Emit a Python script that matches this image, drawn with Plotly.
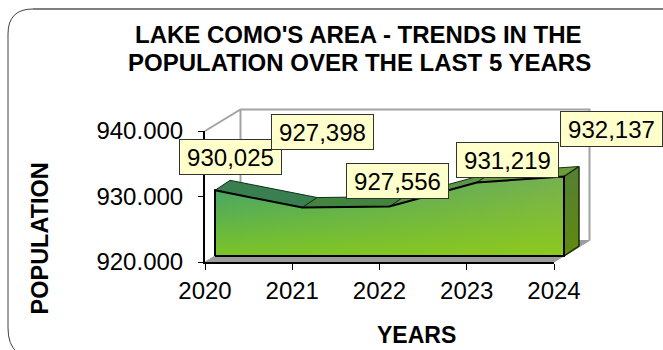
import plotly.graph_objects as go

# ---- data ----
years = [2020, 2021, 2022, 2023, 2024]
population = [930025, 927398, 927556, 931219, 932137]
point_labels = ["930,025", "927,398", "927,556", "931,219", "932,137"]
y_ticks = [920000, 930000, 940000]
y_tick_labels = ["920.000", "930.000", "940.000"]
title_lines = ["LAKE COMO'S AREA - TRENDS IN THE", "POPULATION OVER THE LAST 5 YEARS"]

# ---- layout geometry / styling ----
W, H = 663, 350
LEFT, RIGHT, BOTTOM, TOP = 205, 554, 262, 131
D_LEFT, D_RIGHT, D_BOTTOM, D_TOP = 200, 600, 267, 100   # drawing subplot, same scales
YEAR_PX = (RIGHT - LEFT) / (years[-1] - years[0])
VAL_PX = (BOTTOM - TOP) / (y_ticks[-1] - y_ticks[0])
FONT = "Liberation Sans, Arial, sans-serif"

def dx(px):
    return px / YEAR_PX

def dy(px):
    return px / VAL_PX

fx, fy = dx(10), dy(6)        # front face offset from the axes
sx, sy = dx(15), dy(10)       # ribbon depth
wx, wy = dx(35.5), dy(21.5)   # wall depth
x0, x1 = years[0], years[-1]
y0, y1 = y_ticks[0], y_ticks[-1]

front_x = [x + fx for x in years]
front_y = [v + fy for v in population]
top_face_colors = ["#397f50", "#43843f", "#5c9445", "#6d9c3c"]
GREY = "#a3a3a3"

fig = go.Figure()

def poly(xs, ys, **kw):
    fig.add_trace(go.Scatter(x=xs, y=ys, mode="lines", hoverinfo="skip",
                             showlegend=False, xaxis="x", yaxis="y", **kw))

# floor
poly([x0, x1, x1 + wx, x0 + wx, x0], [y0, y0, y0 + wy, y0 + wy, y0],
     fill="toself", fillcolor="#9c9c9c", line=dict(color="#9c9c9c", width=1))
# walls
poly([x0, x0 + wx, x1 + wx, x1 + wx], [y1, y1 + wy, y1 + wy, y0 + wy],
     line=dict(color=GREY, width=2))
poly([x0 + wx, x0 + wx], [y1 + wy, y0 + wy], line=dict(color=GREY, width=2))

# top faces of the ribbon
for i in range(len(years) - 1):
    poly([front_x[i], front_x[i + 1], front_x[i + 1] + sx, front_x[i] + sx, front_x[i]],
         [front_y[i], front_y[i + 1], front_y[i + 1] + sy, front_y[i] + sy, front_y[i]],
         fill="toself", fillcolor=top_face_colors[i],
         line=dict(color="#123018", width=1))

# right side face
poly([front_x[-1], front_x[-1] + sx, front_x[-1] + sx, front_x[-1], front_x[-1]],
     [front_y[-1], front_y[-1] + sy, y0 + fy + sy, y0 + fy, front_y[-1]],
     fill="toself",
     fillgradient=dict(type="vertical",
                       colorscale=[[0, "#5f8a0c"], [1, "#557f35"]]),
     line=dict(color="#1a2a08", width=1.5))

# front face: horizontal base gradient plus vertical overlay
area_x = [front_x[0]] + front_x + [front_x[-1], front_x[0]]
area_y = [y0 + fy] + front_y + [y0 + fy, y0 + fy]
poly(area_x, area_y, fill="toself",
     fillgradient=dict(type="horizontal",
                       colorscale=[[0, "#3fa070"], [1, "#76b050"]]),
     line=dict(color="rgba(0,0,0,0)", width=0))
poly(area_x, area_y, fill="toself",
     fillgradient=dict(type="vertical",
                       colorscale=[[0, "rgba(155,215,0,0.65)"], [1, "rgba(155,215,0,0)"]]),
     line=dict(color="#000000", width=2))

# carrier trace for the visible axes
fig.add_trace(go.Scatter(x=years, y=population, mode="markers", marker=dict(opacity=0),
                         hoverinfo="skip", showlegend=False, xaxis="x2", yaxis="y2"))

# point labels: offsets in pixels from the front-face point
label_shifts = [(15, 33), (20, 76), (8, 26), (31, 23), (47, 48)]
annotations = []
for x, v, t, (ax, ay) in zip(years, population, point_labels, label_shifts):
    annotations.append(dict(
        x=x, y=v, xref="x2", yref="y2", text=t, showarrow=False,
        xshift=10 + ax, yshift=6 + ay,
        font=dict(family=FONT, size=24, color="#000000"),
        bgcolor="#ffffcc", bordercolor="#333333", borderwidth=1, borderpad=3,
        width=95, height=28,
    ))

def text_at(text, px, py, size, angle=0, **kw):
    annotations.append(dict(
        text="<b>" + text + "</b>", x=px / W, y=1 - py / H, xref="paper", yref="paper",
        xanchor="center", yanchor="middle", showarrow=False, textangle=angle,
        font=dict(family=FONT, size=size, color="#000000"), **kw))

text_at("YEARS", 416, 335, 23)
text_at("POPULATION", 40, 238.5, 23.5, angle=-90)
text_at(title_lines[0], 358.5, 35, 24)
text_at(title_lines[1], 359, 63, 24)

def P(x, y):
    return f"{x / W:.5f} {1 - y / H:.5f}"

frame_top = f"M {P(33, 9)} L {P(663, 9)}"
frame_left = f"M {P(33, 9)} Q {P(8, 9)} {P(8, 34)} L {P(8, 328)} Q {P(8, 345)} {P(17, 352)}"

fig.update_layout(
    width=W, height=H,
    margin=dict(l=0, r=0, t=0, b=0, pad=0, autoexpand=False),
    paper_bgcolor="#ffffff", plot_bgcolor="rgba(0,0,0,0)",
    showlegend=False,
    font=dict(family=FONT, color="#000000"),
    annotations=annotations,
    shapes=[
        dict(type="path", path=frame_top, xref="paper", yref="paper",
             line=dict(color="#808080", width=2.2), layer="below"),
        dict(type="path", path=frame_left, xref="paper", yref="paper",
             line=dict(color="#404040", width=1), layer="below"),
    ],
    # drawing subplot: same pixel scale as the visible axes, larger extent
    xaxis=dict(domain=[D_LEFT / W, D_RIGHT / W],
               range=[x0 - dx(LEFT - D_LEFT), x1 + dx(D_RIGHT - RIGHT)],
               visible=False, anchor="y", automargin=False),
    yaxis=dict(domain=[1 - D_BOTTOM / H, 1 - D_TOP / H],
               range=[y0 - dy(D_BOTTOM - BOTTOM), y1 + dy(TOP - D_TOP)],
               visible=False, anchor="x", automargin=False),
    # visible axes
    xaxis2=dict(domain=[LEFT / W, RIGHT / W], range=[x0, x1], anchor="y2", automargin=False,
                tickmode="array", tickvals=years, ticktext=[str(y) for y in years],
                showgrid=False, zeroline=False, showline=True, linecolor="#000000", linewidth=2,
                ticks="outside", ticklen=6, tickwidth=1, tickcolor="#000000",
                ticklabelstandoff=0, tickfont=dict(family=FONT, size=24, color="#000000")),
    yaxis2=dict(domain=[1 - BOTTOM / H, 1 - TOP / H], range=[y0, y1], anchor="x2", automargin=False,
                tickmode="array", tickvals=y_ticks, ticktext=y_tick_labels,
                showgrid=False, zeroline=False, showline=True, linecolor="#000000", linewidth=2,
                ticks="outside", ticklen=5, tickwidth=1, tickcolor="#000000",
                ticklabelstandoff=10, tickfont=dict(family=FONT, size=24, color="#000000")),
)

fig.write_html("out.html", config={"displayModeBar": False},
               post_script="document.body.style.margin='0';")
